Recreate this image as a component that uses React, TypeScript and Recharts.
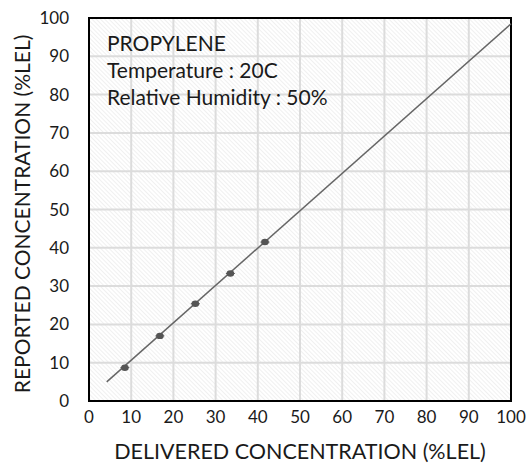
import React from 'react';
import {
  ComposedChart,
  Line,
  Scatter,
  XAxis,
  YAxis,
  CartesianGrid,
  ReferenceArea,
} from 'recharts';

// measured points (delivered vs reported, %LEL)
const delivered = [8.5, 16.8, 25.2, 33.5, 41.7];
const reported = [8.7, 17.0, 25.4, 33.3, 41.5];

// fit line end points
const fitX = [4.2, 100];
const fitY = [5.0, 98.5];

const ticks = [0, 10, 20, 30, 40, 50, 60, 70, 80, 90, 100];

const infoLines = ['PROPYLENE', 'Temperature : 20C', 'Relative Humidity : 50%'];

const points = delivered.map((x, i) => ({ x, y: reported[i] }));
const fitLine = fitX.map((x, i) => ({ x, y: fitY[i] }));

const FONT = 'Lato, "DejaVu Sans", sans-serif';
const TEXT = '#1a1a1a';

const Dot = (props: any) => {
  const { cx, cy } = props;
  return (
    <g>
      <line x1={cx - 4.5} x2={cx + 4.5} y1={cy} y2={cy} stroke="#555" strokeWidth={1} />
      <ellipse cx={cx} cy={cy} rx={3.8} ry={3.2} fill="#555" />
    </g>
  );
};

const Frame = (props: any) => {
  const { x, y, width, height } = props;
  return (
    <g>
      <rect x={x} y={y} width={width} height={height} fill="none" stroke="#000" strokeWidth={2} />
      {infoLines.map((t, i) => (
        <text
          key={t}
          x={x + 18}
          y={y + 33 + i * 27}
          fontFamily={FONT}
          fontSize={21}
          fill={TEXT}
        >
          {t}
        </text>
      ))}
    </g>
  );
};

const YTitle = () => (
  <text
    x={21}
    y={214}
    transform="rotate(-90 21 214)"
    textAnchor="middle"
    dominantBaseline="central"
    fontFamily={FONT}
    fontSize={21}
    fill={TEXT}
  >
    REPORTED CONCENTRATION (%LEL)
  </text>
);

export default function App() {
  return (
    <div style={{ position: 'absolute', left: 0, top: 0, background: '#fff' }}>
      <svg width={0} height={0} style={{ position: 'absolute' }}>
        <defs>
          <pattern id="hatch" width={3} height={3} patternUnits="userSpaceOnUse" patternTransform="rotate(-45)">
            <rect width={3} height={3} fill="#fff" />
            <line x1={0} y1={0} x2={0} y2={3} stroke="#e6e6e6" strokeWidth={1.2} />
          </pattern>
        </defs>
      </svg>
      <ComposedChart
        width={531}
        height={467}
        margin={{ top: 18, right: 20, bottom: 0, left: 0 }}
      >
        <CartesianGrid fill="url(#hatch)" stroke="#dcdcdc" strokeWidth={2} />
        <XAxis
          type="number"
          dataKey="x"
          domain={[0, 100]}
          ticks={ticks}
          height={66}
          axisLine={false}
          tickLine={false}
          tickMargin={4}
          tick={{ fontFamily: FONT, fontSize: 17, fill: TEXT }}
          label={{
            value: 'DELIVERED CONCENTRATION (%LEL)',
            position: 'insideBottom',
            offset: 8,
            style: { fontFamily: FONT, fontSize: 21.5, fill: TEXT },
          }}
        />
        <YAxis
          type="number"
          dataKey="y"
          domain={[0, 100]}
          ticks={ticks}
          width={89}
          axisLine={false}
          tickLine={false}
          tickMargin={14}
          tick={{ fontFamily: FONT, fontSize: 17, fill: TEXT }}
          label={<YTitle />}
        />
        <Line
          data={fitLine}
          dataKey="y"
          type="linear"
          stroke="#666"
          strokeWidth={1.5}
          dot={false}
          isAnimationActive={false}
        />
        <Scatter data={points} dataKey="y" shape={<Dot />} isAnimationActive={false} />
        <ReferenceArea x1={0} x2={100} y1={0} y2={100} shape={<Frame />} />
      </ComposedChart>
    </div>
  );
}
